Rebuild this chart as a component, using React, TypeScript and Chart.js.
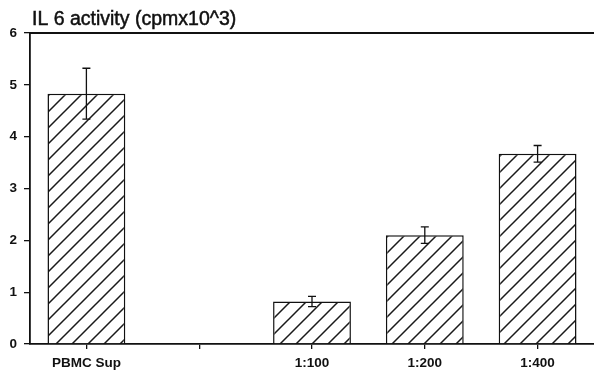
import React, { useEffect, useRef } from "react";
import { Chart, registerables } from "chart.js";

Chart.register(...registerables);

const categories = ["PBMC Sup", "", "1:100", "1:200", "1:400"];
const values = [4.83, null, 0.82, 2.1, 3.67];
const errors = [0.49, null, 0.1, 0.16, 0.16];
const yMin = 0;
const yMax = 6;
const titleText = "IL 6 activity (cpmx10^3)";

function makeHatch(): CanvasPattern | string {
  const s = 16;
  const c = document.createElement("canvas");
  c.width = s;
  c.height = s;
  const g = c.getContext("2d");
  if (!g) return "#fff";
  g.fillStyle = "#ffffff";
  g.fillRect(0, 0, s, s);
  g.strokeStyle = "#1a1a1a";
  g.lineWidth = 1.5;
  g.beginPath();
  g.moveTo(0, s);
  g.lineTo(s, 0);
  g.moveTo(-2, 2);
  g.lineTo(2, -2);
  g.moveTo(s - 2, s + 2);
  g.lineTo(s + 2, s - 2);
  g.stroke();
  const p = g.createPattern(c, "repeat");
  return p || "#fff";
}

const extrasPlugin = {
  id: "extras",
  afterDatasetsDraw(chart: any) {
    const ctx = chart.ctx;
    const meta = chart.getDatasetMeta(0);
    const y = chart.scales.y;
    ctx.save();
    ctx.strokeStyle = "#111";
    ctx.lineWidth = 1.3;
    values.forEach((v, i) => {
      const e = errors[i];
      if (v == null || e == null) return;
      const el = meta.data[i];
      const x = el.x;
      const yt = y.getPixelForValue(v + e);
      const yb = y.getPixelForValue(v - e);
      ctx.beginPath();
      ctx.moveTo(x, yt);
      ctx.lineTo(x, yb);
      ctx.moveTo(x - 4, yt);
      ctx.lineTo(x + 4, yt);
      ctx.moveTo(x - 4, yb);
      ctx.lineTo(x + 4, yb);
      ctx.stroke();
    });
    const a = chart.chartArea;
    ctx.lineWidth = 1.8;
    ctx.beginPath();
    ctx.moveTo(a.left, a.top);
    ctx.lineTo(chart.width, a.top);
    ctx.stroke();
    ctx.fillStyle = "#111";
    ctx.strokeStyle = "#111";
    ctx.lineWidth = 0.5;
    ctx.font = '19.5px "Liberation Sans", Arial, sans-serif';
    ctx.textBaseline = "alphabetic";
    ctx.textAlign = "left";
    ctx.fillText(titleText, 32, 25);
    ctx.strokeText(titleText, 32, 25);
    ctx.restore();
  },
};

export default function App() {
  const ref = useRef<HTMLCanvasElement>(null);
  useEffect(() => {
    document.body.style.margin = "0";
    const canvas = ref.current;
    if (!canvas) return;
    const hatch = makeHatch();
    const tickFont = { family: '"Liberation Sans", Arial, sans-serif', size: 13.5, weight: "bold" as const };
    const chart = new Chart(canvas, {
      type: "bar",
      data: {
        labels: categories,
        datasets: [
          {
            data: values as any,
            backgroundColor: hatch as any,
            borderColor: "#111",
            borderWidth: 1.5,
            categoryPercentage: 1,
            barPercentage: 0.69,
          },
        ],
      },
      options: {
        animation: false,
        responsive: false,
        devicePixelRatio: 1,
        layout: { padding: { top: 33, left: 0, right: 0, bottom: 0 } },
        plugins: {
          legend: { display: false },
          tooltip: { enabled: false },
          title: { display: false },
        },
        scales: {
          x: {
            offset: true,
            grid: {
              offset: false,
              drawOnChartArea: false,
              drawTicks: true,
              tickLength: 5,
              color: "#111",
              lineWidth: 1.3,
            },
            border: { display: true, color: "#111", width: 1.8 },
            ticks: {
              color: "#111",
              font: tickFont,
              padding: 6,
              maxRotation: 0,
              autoSkip: false,
            },
            afterFit(scale: any) {
              scale.height = 30;
            },
          },
          y: {
            min: yMin,
            max: yMax,
            grid: {
              drawOnChartArea: false,
              drawTicks: true,
              tickLength: 6,
              color: "#111",
              lineWidth: 1.3,
            },
            border: { display: true, color: "#111", width: 1.8 },
            ticks: {
              stepSize: 1,
              color: "#111",
              font: tickFont,
              padding: 7,
            },
            afterFit(scale: any) {
              scale.width = 30;
            },
          },
        },
      },
      plugins: [extrasPlugin],
    });
    return () => chart.destroy();
  }, []);
  return (
    <div style={{ width: 594, height: 374, background: "#fff" }}>
      <canvas ref={ref} width={594} height={374} style={{ display: "block" }} />
    </div>
  );
}
